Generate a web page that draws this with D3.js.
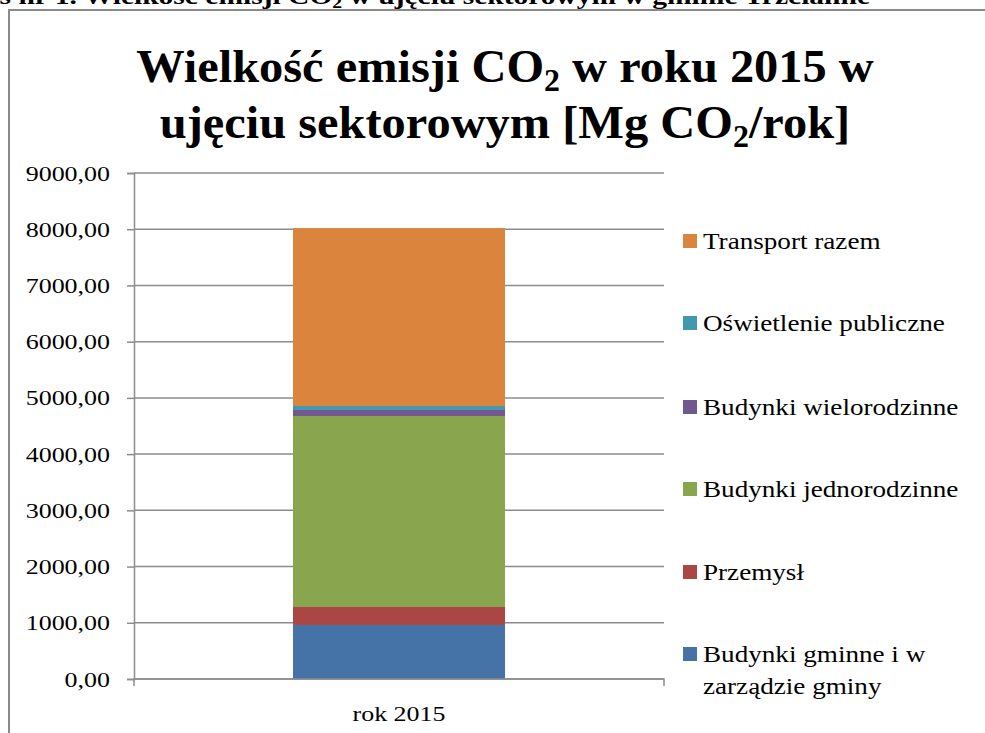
<!DOCTYPE html>
<html>
<head>
<meta charset="utf-8">
<script src="https://cdn.jsdelivr.net/npm/d3@7"></script>
<style>
  body { margin: 0; background: #fff; }
  text { font-family: "Liberation Serif", "Times New Roman", serif; }
</style>
</head>
<body>
<div id="chart"></div>
<script>
var categories = ["rok 2015"];
var sectors = ["Budynki gminne i w zarządzie gminy", "Przemysł", "Budynki jednorodzinne",
  "Budynki wielorodzinne", "Oświetlenie publiczne", "Transport razem"];
var values = [961, 320, 3397, 107, 71, 3164];
var colors = ["#4572a7", "#aa4643", "#89a54e", "#71588f", "#4198af", "#db843d"];
var yTicks = [0, 1000, 2000, 3000, 4000, 5000, 6000, 7000, 8000, 9000];

var stretch = 1.18; // text in the source is drawn horizontally stretched

var svg = d3.select("#chart").append("svg")
  .attr("width", 985)
  .attr("height", 733);

// clipped caption above the chart frame
svg.append("text")
  .attr("transform", "translate(870,4) scale(1.23,1)")
  .attr("text-anchor", "end")
  .attr("font-size", "24")
  .attr("font-weight", "bold")
  .html('Wykres nr 1. Wielkość emisji CO<tspan font-size="16" dy="4">2</tspan><tspan dy="-4"> w ujęciu sektorowym w gminie Trzcianne</tspan>');

// chart frame
svg.append("path")
  .attr("d", "M9,733 L9,10 L985,10")
  .attr("fill", "none")
  .attr("stroke", "#8a8a8a")
  .attr("stroke-width", 2);

// title
var title = svg.append("text")
  .attr("transform", "translate(505,82) scale(1.03,1)")
  .attr("text-anchor", "middle")
  .attr("font-size", "47")
  .attr("font-weight", "bold");
title.append("tspan").attr("x", 0).attr("y", 0).text("Wielkość emisji CO");
title.append("tspan").attr("font-size", "31").attr("dy", 9).text("2");
title.append("tspan").attr("dy", -9).text(" w roku 2015 w");
var t2 = svg.append("text")
  .attr("transform", "translate(505,138) scale(1.03,1)")
  .attr("text-anchor", "middle")
  .attr("font-size", "47")
  .attr("font-weight", "bold");
t2.append("tspan").attr("x", 0).attr("y", 0).text("ujęciu sektorowym [Mg CO");
t2.append("tspan").attr("font-size", "31").attr("dy", 9).text("2");
t2.append("tspan").attr("dy", -9).text("/rok]");

var plotLeft = 134, plotRight = 664, plotTop = 173, plotBottom = 679;

var x = d3.scaleBand()
  .domain(categories)
  .range([plotLeft, plotRight])
  .paddingInner(0.6)
  .paddingOuter(0.3);

var y = d3.scaleLinear()
  .domain([0, 9000])
  .range([plotBottom, plotTop]);

// gridlines
svg.selectAll("line.grid")
  .data(yTicks)
  .enter().append("line")
    .attr("class", "grid")
    .attr("x1", plotLeft)
    .attr("x2", plotRight)
    .attr("y1", function(d) { return y(d); })
    .attr("y2", function(d) { return y(d); })
    .attr("stroke", "#8c8c8c")
    .attr("stroke-width", 1.5);

// stacked bar
var stack = d3.stack().keys(d3.range(sectors.length))([values]);
svg.selectAll("rect.seg")
  .data(stack)
  .enter().append("rect")
    .attr("class", "seg")
    .attr("x", x(categories[0]))
    .attr("width", x.bandwidth())
    .attr("y", function(d) { return y(d[0][1]); })
    .attr("height", function(d) { return y(d[0][0]) - y(d[0][1]); })
    .attr("fill", function(d, i) { return colors[i]; });

// y axis
var yAxis = svg.append("g")
  .attr("transform", "translate(" + plotLeft + ",0)")
  .call(d3.axisLeft(y)
    .tickValues(yTicks)
    .tickSize(7)
    .tickFormat(function(d) { return d3.format(".2f")(d).replace(".", ","); }));
yAxis.select(".domain").attr("stroke", "#8c8c8c").attr("stroke-width", 1.5);
yAxis.selectAll(".tick line").attr("stroke", "#8c8c8c").attr("stroke-width", 1.5);
yAxis.selectAll(".tick text")
  .attr("x", -24 / stretch)
  .attr("transform", "scale(" + stretch + ",1)")
  .attr("font-size", "22")
  .attr("fill", "#000");

// x axis
var xAxis = svg.append("g")
  .attr("transform", "translate(0," + plotBottom + ")")
  .call(d3.axisBottom(x).tickSize(0).tickPadding(26));
xAxis.select(".domain")
  .attr("d", "M" + plotLeft + ",7V0H" + plotRight + "V7")
  .attr("stroke", "#8c8c8c").attr("stroke-width", 1.5);
xAxis.selectAll(".tick text")
  .attr("transform", "scale(" + stretch + ",1)")
  .attr("font-size", "22")
  .attr("fill", "#000");

// legend, top to bottom in reverse stack order
var legendY = [241, 323, 407, 489, 572, 654];
var order = d3.range(sectors.length).reverse();
var legend = svg.selectAll("g.legend")
  .data(order)
  .enter().append("g")
    .attr("class", "legend")
    .attr("transform", function(d, i) { return "translate(683," + legendY[i] + ")"; });
legend.append("rect")
  .attr("x", 0)
  .attr("y", -7)
  .attr("width", 14)
  .attr("height", 14)
  .attr("fill", function(d) { return colors[d]; });
legend.append("text")
  .attr("transform", "translate(20,8) scale(" + stretch + ",1)")
  .attr("font-size", "23")
  .attr("fill", "#000")
  .each(function(d) {
    var el = d3.select(this);
    if (d === 0) {
      el.append("tspan").attr("x", 0).text("Budynki gminne i w");
      el.append("tspan").attr("x", 0).attr("dy", 32).text("zarządzie gminy");
    } else {
      el.text(sectors[d]);
    }
  });
</script>
</body>
</html>
